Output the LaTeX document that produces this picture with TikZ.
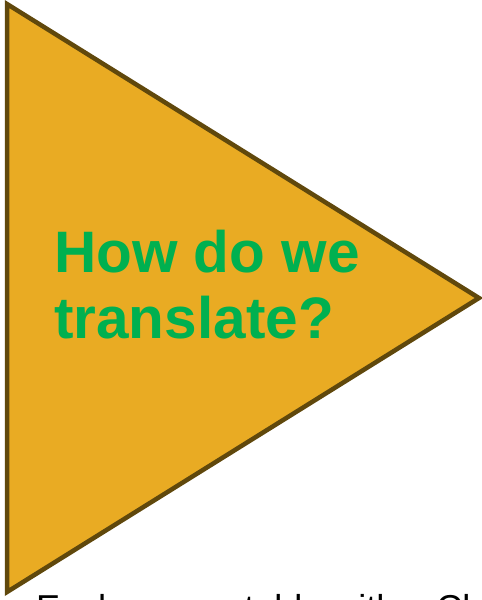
\documentclass[tikz,border=0pt]{standalone}
\usepackage{fontspec}
\setmainfont{Liberation Sans}
\usepackage{xcolor}
\usetikzlibrary{positioning}
\definecolor{arrowfill}{RGB}{233,171,35}
\definecolor{arrowline}{RGB}{96,72,12}
\definecolor{askgreen}{RGB}{0,176,80}

\begin{document}
\begin{tikzpicture}[
  x=1bp, y=-1bp,
  tri/.style={draw=arrowline, fill=arrowfill, line width=4.5bp, line join=miter},
  ask/.style={text=askgreen, font=\fontsize{58.5bp}{66bp}\selectfont\bfseries, align=left, inner sep=0pt, anchor=base west},
  foot/.style={font=\fontsize{36bp}{40bp}\selectfont, inner sep=0pt, anchor=base west}
]
\useasboundingbox (0,0) rectangle (482,600);
\draw[tri] (7,4) -- (479,298) -- (7,592) -- cycle;
\node[ask] (question) at (54,338) {How do we\\translate?};
\node[foot] (note) at (36,620) {Each uses a table with a Cl};
\end{tikzpicture}
\end{document}
